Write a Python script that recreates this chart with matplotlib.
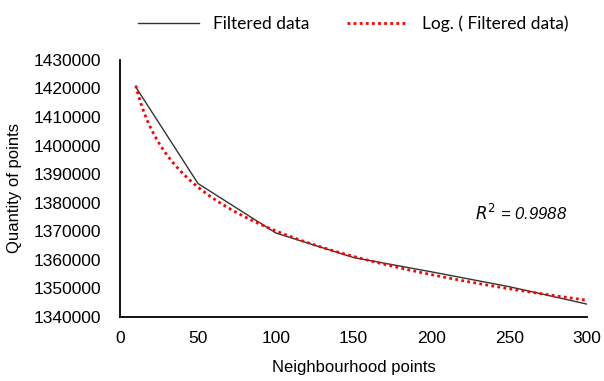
import numpy as np
import matplotlib
matplotlib.use("Agg")
import matplotlib.pyplot as plt

x_vals = [10, 50, 100, 150, 200, 250, 300]
y_vals = [1420500, 1386700, 1369400, 1360800, 1355800, 1350600, 1344500]
x_ticks = [0, 50, 100, 150, 200, 250, 300]
y_ticks = [1340000, 1350000, 1360000, 1370000, 1380000, 1390000, 1400000, 1410000, 1420000, 1430000]

plt.rcParams['font.family'] = ['Liberation Sans', 'DejaVu Sans']

fig = plt.figure(figsize=(6.04, 3.81), dpi=100)
ax = fig.add_axes([0.199, 0.168, 0.773, 0.675])

xa = np.array(x_vals, float)
ya = np.array(y_vals, float)
a, b = np.polyfit(np.log(xa), ya, 1)
xf = np.linspace(xa.min(), xa.max(), 300)
yf = a * np.log(xf) + b

ax.plot(xa, ya, color='#333333', lw=1.0, label='Filtered data')
ax.plot(xf, yf, color='#ff0000', lw=2.0, linestyle=(0, (1, 1.2)), label='Log. ( Filtered data)')

ax.set_xlim(0, 300)
ax.set_ylim(1340000, 1430000)
ax.set_xticks(x_ticks)
ax.set_yticks(y_ticks)
ax.set_yticklabels([str(v) for v in y_ticks])
ax.tick_params(axis='y', length=0, labelsize=12.5, pad=14)
ax.tick_params(axis='x', length=0, labelsize=12.5, pad=10)
for s in ['top', 'right']:
    ax.spines[s].set_visible(False)
ax.spines['left'].set_linewidth(1.3)
ax.spines['bottom'].set_linewidth(1.3)

ax.set_xlabel('Neighbourhood points', fontsize=12, labelpad=10)
ax.set_ylabel('Quantity of points', fontsize=12, labelpad=8)

ax.text(0.957, 0.405, r'$R^2$ = 0.9988', transform=ax.transAxes, fontsize=12,
        style='italic', ha='right', va='center')

leg = fig.legend(loc='upper center', bbox_to_anchor=(0.585, 1.0), ncol=2, frameon=False,
                 handlelength=3.5, columnspacing=2.2,
                 prop={'family': 'Lato', 'size': 12.5})
fig.savefig('out.png', dpi=100)
